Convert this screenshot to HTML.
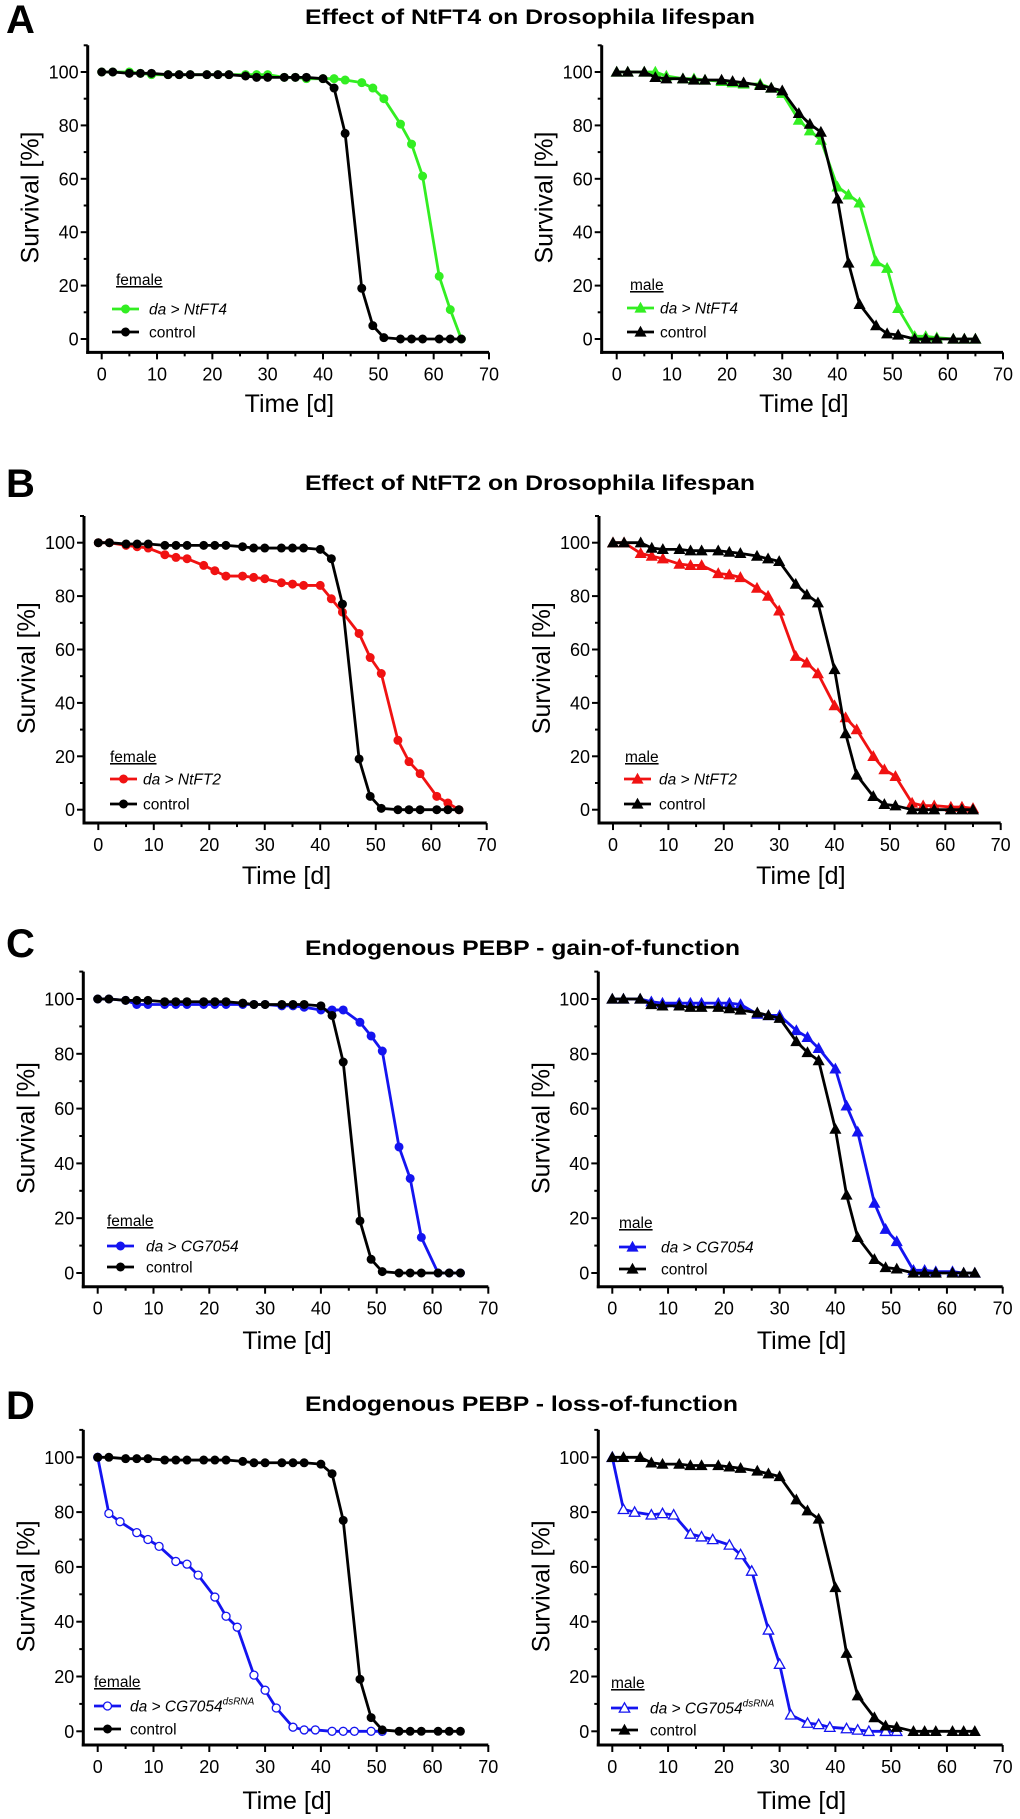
<!DOCTYPE html>
<html><head><meta charset="utf-8"><style>
html,body{margin:0;padding:0;background:#fff;}
svg{display:block;font-family:"Liberation Sans",Arial,sans-serif;}
</style></head><body>
<svg id="fig" width="1020" height="1819" viewBox="0 0 1020 1819" xmlns="http://www.w3.org/2000/svg"></svg>
<script>
const ctrlDays=[0,2,5,7,9,12,14,16,19,21,23,26,28,30,33,35,37,40,42,44,47,49,51,54,56,58,61,63,65];
const rnaDays=[0,2,4,7,9,11,14,16,18,21,23,25,28,30,32,35,37,39,42,44,46,49,51];
const xTicks=[0,10,20,30,40,50,60,70];
const yTicks=[0,20,40,60,80,100];
const femaleCtrl=[100,100,99.5,99.5,99.5,99,99,99,99,99,99,98.5,98,98,98,98,98,97.5,94,77,19,5,0.5,0,0,0,0,0,0];
const maleCtrl=[100,100,100,98,97.5,97.5,97,97,97,96.5,96,95,94,93,84.5,80.5,77.5,52.5,28.5,13,5,2,1.5,0,0,0,0,0,0];
const aFemale=[100,100,100,99.5,99,99,99,99,99,99,99,99,99,99,98,98,97.5,97.5,97.5,97,96,94,90,80.5,73,61,23.5,11,0];
const aMale=[100,100,100,100,98.5,97.5,97.5,97,96.5,96,95.5,95.5,94,92,82,78,74.5,57,54,51,29,26.5,11.5,1,1,0.5,0,0,0];
const bFemale=[100,100,99,98.5,98,95.5,94.5,94,91.5,89.5,87.5,87.5,87,86.5,85,84.5,84,84,79,74,66,57,51,26,18,13.5,5,2.5,0];
const bMale=[100,100,96,95,94,92,91.5,91.5,88.5,88,87,83,80,74.5,57.5,55,51,39,34.5,30,20,15,12.5,2.5,1.5,1.5,1,1,0.5];
const cFemale=[100,100,99.5,98,98,98,98,98,98,98,98,98,98,98,97.5,97.5,97,96,96,96,91.5,86.5,81,46,34.5,13,0,0,0];
const cMale=[100,100,100,99,98.5,98.5,98.5,98.5,98.5,98.5,98,94.5,94,94,88.5,86,82,74.5,61,51.5,25.5,16,11.5,1,1,0.5,0.5,0,0];
const dFemale=[100,79.5,76.5,72.5,70,67.5,62,61,57,49,42,38,20.5,15,8.5,1.5,0.5,0.5,0,0,0,0,0];
const dMale=[100,81,80,79,79.5,79,72,71,70,68,64.5,58.5,37,24.5,6,3,2.5,1.5,1,0.5,0,0,0];

const NS="http://www.w3.org/2000/svg";
const svg=document.getElementById('fig');
function mk(tag,attrs,parent,text){const e=document.createElementNS(NS,tag);for(const k in attrs)e.setAttribute(k,attrs[k]);if(text!==undefined)e.textContent=text;(parent||svg).appendChild(e);return e;}

const GREEN='#33ee22',RED='#f01212',BLUE='#1414f0',BLACK='#000';

function marker(g,shape,x,y,color,open){
  let m;
  if(shape==='circle'){m=mk('circle',{cx:x,cy:y,r:4,fill:open?'#fff':color,stroke:color,'stroke-width':open?1.3:1},g);}
  else{const s=5.2;m=mk('polygon',{points:`${x},${y-s} ${x-s},${y+s*0.8} ${x+s},${y+s*0.8}`,fill:open?'#fff':color,stroke:color,'stroke-width':open?1.3:1},g);}
  return m;
}

function panel(cfg){
  const g=mk('g',{});
  
  
  const X=d=>cfg.x0+(cfg.x70-cfg.x0)*d/70;
  const Y=v=>cfg.y0+(cfg.y100-cfg.y0)*v/100;
  const axY=Y(-5), topY=Y(110);
  const yax=mk('line',{x1:cfg.ax,y1:topY,x2:cfg.ax,y2:axY+1.5,stroke:'#000','stroke-width':3},g);
  
  const xax=mk('line',{x1:cfg.ax-1.5,y1:axY,x2:cfg.x70,y2:axY,stroke:'#000','stroke-width':3},g);
  
  for(let d=0;d<=70;d+=5){const maj=d%10===0;mk('line',{x1:X(d),y1:axY,x2:X(d),y2:axY+(maj?7:4),stroke:'#000','stroke-width':2},g);}
  for(let v=0;v<=110;v+=10){const maj=v%20===0&&v<=100;mk('line',{x1:cfg.ax,y1:Y(v),x2:cfg.ax-(maj?7:4),y2:Y(v),stroke:'#000','stroke-width':2},g);}
  xTicks.forEach(t=>{const e=mk('text',{x:X(t),y:axY+28,'font-size':18,'text-anchor':'middle'},g,String(t));});
  yTicks.forEach(t=>{const e=mk('text',{x:cfg.ax-9,y:Y(t)+6.5,'font-size':18,'text-anchor':'end'},g,String(t));});
  const xt=mk('text',{x:(cfg.x0+cfg.x70)/2-6,y:cfg.timeY,'font-size':25,'text-anchor':'middle'},g,'Time [d]');
  
  const cy=(cfg.y100+cfg.y0)/2-8, cx=cfg.ax-58;
  const yt=mk('text',{x:cx,y:cy,'font-size':25,'text-anchor':'middle',transform:`rotate(-90 ${cx} ${cy}) translate(0 9)`},g,'Survival [%]');
  
  // series: treatment first, control on top
  [cfg.series[1],cfg.series[0]].forEach(s=>{
    const sg=mk('g',{},g);
    
    
    const pts=s.days.map((d,i)=>X(d)+','+Y(s.vals[i])).join(' ');
    mk('polyline',{points:pts,fill:'none',stroke:s.color,'stroke-width':2.8,'stroke-linejoin':'round'},sg);
    s.days.forEach((d,i)=>{const m=marker(sg,s.shape,X(d),Y(s.vals[i]),s.color,s.open);});
  });
  // legend
  const lg=mk('g',{},g);
  
  
  const L=cfg.leg;
  const hd=mk('text',{x:L.hx,y:L.hy,'font-size':15.5,'text-decoration':'underline'},lg,cfg.sex);
  
  [cfg.series[1],cfg.series[0]].forEach((s,i)=>{
    const yy=i===0?L.y1:L.y2;
    const en=mk('g',{},lg);
    
    
    mk('line',{x1:L.lx,y1:yy,x2:L.lx+27,y2:yy,stroke:s.color,'stroke-width':2.8},en);
    marker(en,s.shape,L.lx+13.5,yy,s.color,s.open);
    const t=mk('text',{x:L.tx,y:yy+5.5,'font-size':15.5},en);
    if(s.label==='control'){t.textContent='control';}
    else{mk('tspan',{'font-style':'italic'},t,s.label);
      if(s.sup){mk('tspan',{'font-style':'italic','font-size':10,dy:-7},t,s.sup);}}
  });
}

function row(letter,title,ly,ty,cfgL,cfgR){
  const l=mk('text',{x:6,y:ly,'font-size':40,'font-weight':'bold'},svg,letter);
  
  const t=mk('text',{x:305,y:ty,'font-size':21,'font-weight':'bold',textLength:title.tl,lengthAdjust:'spacingAndGlyphs'},svg,title.s);
  
  panel(cfgL);panel(cfgR);
}

function ser(id,label,days,vals,color,shape,open,sup){return {id,label,days,vals,color,shape,open,sup};}

row('A',{s:'Effect of NtFT4 on Drosophila lifespan',tl:450},33,24,
 {name:'panel-a-female',ax:87.7,x0:101.7,x70:489,y100:72,y0:339,timeY:412,sex:'female',
  leg:{hx:116,hy:285,lx:112,tx:149,y1:309,y2:332},
  series:[ser('control-female',"control",ctrlDays,femaleCtrl,BLACK,'circle'),ser('ntft4-female','da > NtFT4',ctrlDays,aFemale,GREEN,'circle')]},
 {name:'panel-a-male',ax:601.7,x0:616.7,x70:1003,y100:72,y0:339,timeY:412,sex:'male',
  leg:{hx:630,hy:290,lx:627,tx:660,y1:308,y2:332},
  series:[ser('control-male',"control",ctrlDays,maleCtrl,BLACK,'tri'),ser('ntft4-male','da > NtFT4',ctrlDays,aMale,GREEN,'tri')]});
row('B',{s:'Effect of NtFT2 on Drosophila lifespan',tl:450},497,490,
 {name:'panel-b-female',ax:84,x0:98.3,x70:486.7,y100:542.7,y0:809.7,timeY:884,sex:'female',
  leg:{hx:110,hy:762,lx:110,tx:143,y1:779,y2:804},
  series:[ser('control-female',"control",ctrlDays,femaleCtrl,BLACK,'circle'),ser('ntft2-female','da > NtFT2',ctrlDays,bFemale,RED,'circle')]},
 {name:'panel-b-male',ax:599,x0:613,x70:1000.7,y100:542.7,y0:809.7,timeY:884,sex:'male',
  leg:{hx:625,hy:762,lx:624,tx:659,y1:779,y2:804},
  series:[ser('control-male',"control",ctrlDays,maleCtrl,BLACK,'tri'),ser('ntft2-male','da > NtFT2',ctrlDays,bMale,RED,'tri')]});
row('C',{s:'Endogenous PEBP - gain-of-function',tl:435},957,955,
 {name:'panel-c-female',ax:83.3,x0:97.7,x70:488.3,y100:999,y0:1273,timeY:1349,sex:'female',
  leg:{hx:107,hy:1226,lx:107,tx:146,y1:1246,y2:1267},
  series:[ser('control-female',"control",ctrlDays,femaleCtrl,BLACK,'circle'),ser('cg7054-female','da > CG7054',ctrlDays,cFemale,BLUE,'circle')]},
 {name:'panel-c-male',ax:598.3,x0:612.3,x70:1002.7,y100:999,y0:1273,timeY:1349,sex:'male',
  leg:{hx:619,hy:1228,lx:619,tx:661,y1:1247,y2:1269},
  series:[ser('control-male',"control",ctrlDays,maleCtrl,BLACK,'tri'),ser('cg7054-male','da > CG7054',ctrlDays,cMale,BLUE,'tri')]});
row('D',{s:'Endogenous PEBP - loss-of-function',tl:433},1419,1411,
 {name:'panel-d-female',ax:83.3,x0:97.7,x70:488.3,y100:1457.3,y0:1731.3,timeY:1809,sex:'female',
  leg:{hx:94,hy:1687,lx:94,tx:130,y1:1706,y2:1729},
  series:[ser('control-female',"control",ctrlDays,femaleCtrl,BLACK,'circle'),ser('cg7054-rnai-female','da > CG7054',rnaDays,dFemale,BLUE,'circle',true,'dsRNA')]},
 {name:'panel-d-male',ax:598.3,x0:612.3,x70:1002.7,y100:1457.3,y0:1731.3,timeY:1809,sex:'male',
  leg:{hx:611,hy:1688,lx:611,tx:650,y1:1708,y2:1730},
  series:[ser('control-male',"control",ctrlDays,maleCtrl,BLACK,'tri'),ser('cg7054-rnai-male','da > CG7054',rnaDays,dMale,BLUE,'tri',true,'dsRNA')]});
</script>
</body></html>
